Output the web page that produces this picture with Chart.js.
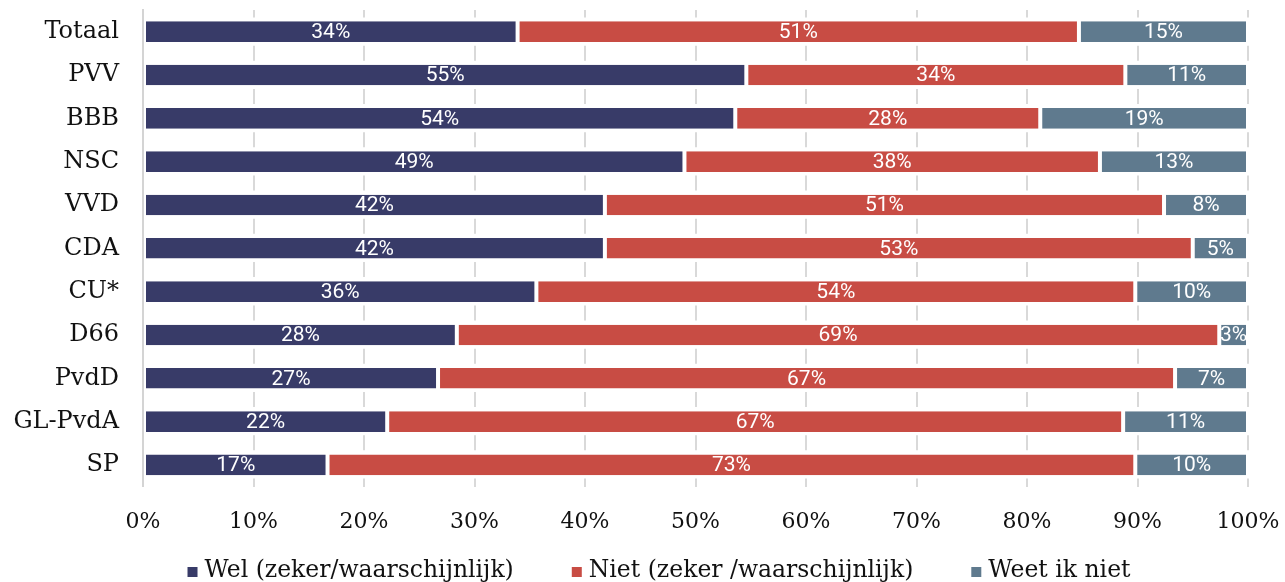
<!DOCTYPE html>
<html>
<head>
<meta charset="utf-8">
<script src="https://cdn.jsdelivr.net/npm/chart.js@4.4.1/dist/chart.umd.min.js"></script>
<style>
  html, body { margin: 0; padding: 0; background: #fff; }
  #wrap { width: 1285px; height: 582px; }
</style>
</head>
<body>
<div id="wrap"><canvas id="chart"></canvas></div>
<script>
// data (bar lengths), labels show the rounded value
const categories = ['Totaal', 'PVV', 'BBB', 'NSC', 'VVD', 'CDA', 'CU*', 'D66', 'PvdD', 'GL-PvdA', 'SP'];
const welValues = [33.9, 54.6, 53.6, 49.0, 41.8, 41.8, 35.6, 28.4, 26.7, 22.1, 16.7];
const nietValues = [50.8, 34.3, 27.6, 37.6, 50.6, 53.2, 54.2, 69.0, 66.7, 66.6, 73.1];
const weetNietValues = [15.3, 11.1, 18.8, 13.4, 7.6, 5.0, 10.2, 2.6, 6.6, 11.3, 10.2];
const seriesLabels = ['Wel (zeker/waarschijnlijk)', 'Niet (zeker /waarschijnlijk)', 'Weet ik niet'];
const xTickValues = [0, 10, 20, 30, 40, 50, 60, 70, 80, 90, 100];

// witte percentages midden in elk segment
const segmentLabels = {
    id: 'segmentLabels',
    afterDatasetsDraw(chart) {
        const ctx = chart.ctx;
        ctx.save();
        ctx.font = '21px Roboto';
        ctx.fillStyle = '#ffffff';
        ctx.textAlign = 'center';
        ctx.textBaseline = 'middle';
        chart.data.datasets.forEach((ds, i) => {
            chart.getDatasetMeta(i).data.forEach((bar, j) => {
                ctx.fillText(Math.round(ds.data[j]) + '%', (bar.x + bar.base) / 2, bar.y + 1);
            });
        });
        ctx.restore();
    }
};

// eigen legenda onderaan: klein vierkantje + tekst, ruime tussenruimte
const bottomLegend = {
    id: 'bottomLegend',
    afterDraw(chart) {
        const ctx = chart.ctx;
        const box = 10, textGap = 7, itemGap = 58, centerX = 659, baseline = 577;
        ctx.save();
        ctx.font = '23.5px "DejaVu Serif"';
        ctx.textBaseline = 'alphabetic';
        ctx.textAlign = 'left';
        const items = chart.data.datasets.map(ds => ({
            text: ds.label, color: ds.backgroundColor, w: ctx.measureText(ds.label).width
        }));
        const total = items.reduce((s, it) => s + box + textGap + it.w, 0) + itemGap * (items.length - 1);
        let x = centerX - total / 2;
        items.forEach(it => {
            ctx.fillStyle = it.color;
            ctx.fillRect(x, baseline - box, box, box);
            ctx.fillStyle = '#111';
            ctx.fillText(it.text, x + box + textGap, baseline);
            x += box + textGap + it.w + itemGap;
        });
        ctx.restore();
    }
};

function makeDataset(label, data, color) {
    return {
        label: label,
        data: data,
        backgroundColor: color,
        borderColor: '#ffffff',
        borderWidth: { top: 0, bottom: 0, left: 2, right: 2 },
        borderSkipped: false,
        barPercentage: 0.476,
        categoryPercentage: 1
    };
}

new Chart(document.getElementById('chart'), {
    type: 'bar',
    data: {
        labels: categories,
        datasets: [
            makeDataset(seriesLabels[0], welValues, '#383b68'),
            makeDataset(seriesLabels[1], nietValues, '#c84c44'),
            makeDataset(seriesLabels[2], weetNietValues, '#5f7a8e')
        ]
    },
    options: {
        indexAxis: 'y',
        responsive: true,
        maintainAspectRatio: false,
        animation: false,
        layout: { padding: { top: 10, right: 37, bottom: 25, left: 0 } },
        scales: {
            x: {
                stacked: true,
                min: 0,
                max: 100,
                afterBuildTicks: scale => { scale.ticks = xTickValues.map(v => ({ value: v })); },
                // tick padding should not eat into the side margins
                afterFit: scale => { scale.paddingLeft = 0; scale.paddingRight = 0; },
                grid: { color: '#d9d9d9', lineWidth: 2, drawTicks: false },
                border: { display: false, dash: [15, 28.27], dashOffset: 7.5 },
                ticks: { padding: 22, maxRotation: 0, color: '#111', font: { family: 'DejaVu Serif', size: 22 }, callback: v => v + '%' }
            },
            y: {
                stacked: true,
                afterFit: scale => {
                    scale.width = 143;
                    scale.paddingTop = 0;
                    scale.paddingBottom = 0;
                },
                grid: { display: false },
                border: { color: '#d4d4d4', width: 2 },
                ticks: { padding: 16, color: '#111', font: { family: 'DejaVu Serif', size: 24 } }
            }
        },
        plugins: {
            legend: { display: false },
            tooltip: { enabled: false }
        }
    },
    plugins: [segmentLabels, bottomLegend]
});
</script>
</body>
</html>
